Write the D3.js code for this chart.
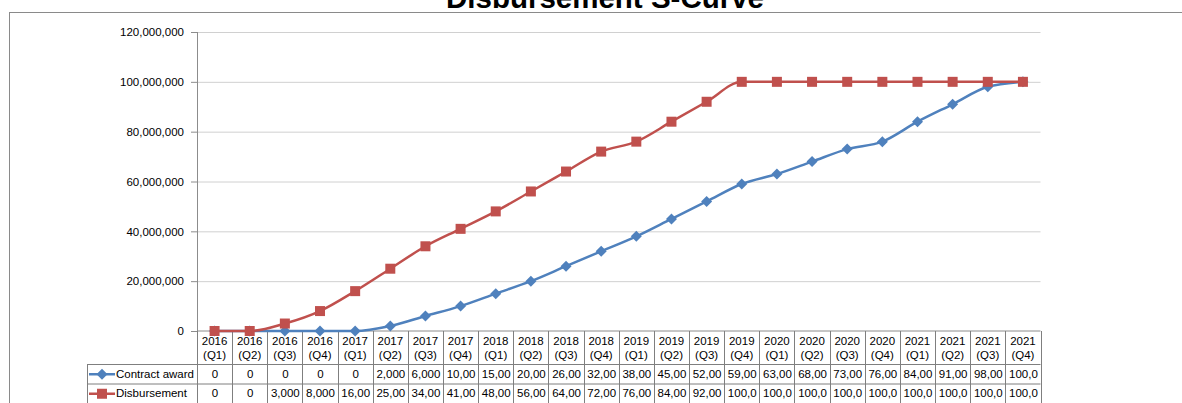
<!DOCTYPE html>
<html>
<head>
<meta charset="utf-8">
<style>
    body { margin: 0; background: #fff; }
    svg { display: block; font-family: 'Liberation Sans', Arial, sans-serif; }
    .y .domain { display: none; }
    .y .tick line { stroke: #8c8c8c; }
    .y .tick text { font-size: 11.5px; fill: #000; }
    .grid .domain { display: none; }
    .grid .tick line { stroke: #d0d0d0; }
    .cell { font-size: 11.5px; fill: #000; }
    .title { font-size: 29.5px; font-weight: bold; font-family: Arial, 'Liberation Sans', sans-serif; }
</style>
</head>
<body>
<svg width="1182" height="403"></svg>
<script src="https://cdnjs.cloudflare.com/ajax/libs/d3/7.8.5/d3.min.js"></script>
<script>
    let categories = ["2016 (Q1)", "2016 (Q2)", "2016 (Q3)", "2016 (Q4)",
        "2017 (Q1)", "2017 (Q2)", "2017 (Q3)", "2017 (Q4)",
        "2018 (Q1)", "2018 (Q2)", "2018 (Q3)", "2018 (Q4)",
        "2019 (Q1)", "2019 (Q2)", "2019 (Q3)", "2019 (Q4)",
        "2020 (Q1)", "2020 (Q2)", "2020 (Q3)", "2020 (Q4)",
        "2021 (Q1)", "2021 (Q2)", "2021 (Q3)", "2021 (Q4)"]

    let contractAward = [0, 0, 0, 0, 0, 2000000, 6000000, 10000000,
        15000000, 20000000, 26000000, 32000000, 38000000, 45000000, 52000000, 59000000,
        63000000, 68000000, 73000000, 76000000, 84000000, 91000000, 98000000, 100000000]

    let disbursement = [0, 0, 3000000, 8000000, 16000000, 25000000, 34000000, 41000000,
        48000000, 56000000, 64000000, 72000000, 76000000, 84000000, 92000000, 100000000,
        100000000, 100000000, 100000000, 100000000, 100000000, 100000000, 100000000, 100000000]

    let yTicks = [0, 20000000, 40000000, 60000000, 80000000, 100000000, 120000000]

    let seriesNames = ["Contract award", "Disbursement"]
    let seriesColors = ["#4f81bd", "#c0504d"]

    let svg = d3.select("svg")

    let plotLeft = 197, plotRight = 1040.5, plotTop = 32, plotBottom = 331
    let tableLeft = 87
    let rowY = [331, 364, 383.5, 403]

    let x = d3.scaleBand()
        .domain(categories)
        .range([plotLeft, plotRight])

    let y = d3.scaleLinear()
        .domain([0, 120000000])
        .range([plotBottom, plotTop])

    // chart frame
    svg.append("rect")
        .attr("x", 9.5).attr("y", 12.5)
        .attr("width", 1200).attr("height", 420)
        .attr("fill", "none")
        .attr("stroke", "#8a8a8a")

    // title (cut off at the top like the original)
    svg.append("text")
        .attr("class", "title")
        .attr("x", 605)
        .attr("y", 7.5)
        .attr("text-anchor", "middle")
        .text("Disbursement S-Curve")

    // gridlines
    svg.append("g")
        .attr("class", "grid")
        .attr("transform", `translate(${plotLeft},0)`)
        .call(d3.axisRight(y).tickValues(yTicks.slice(1)).tickSize(plotRight - plotLeft).tickFormat(""))

    // y axis
    svg.append("g")
        .attr("class", "y")
        .attr("transform", `translate(${plotLeft},0)`)
        .call(d3.axisLeft(y)
            .tickValues(yTicks)
            .tickSize(6)
            .tickPadding(7)
            .tickFormat(d3.format(",")))

    svg.append("line")
        .attr("x1", plotLeft + 0.5).attr("x2", plotLeft + 0.5)
        .attr("y1", plotTop).attr("y2", plotBottom)
        .attr("stroke", "#8c8c8c")

    svg.append("line")
        .attr("x1", plotLeft).attr("x2", plotRight)
        .attr("y1", y(0)).attr("y2", y(0))
        .attr("stroke", "#8c8c8c")

    // data table
    let table = svg.append("g")
    let border = "#7f7f7f"

    // horizontal rules
    table.append("line")
        .attr("x1", tableLeft).attr("x2", plotRight)
        .attr("y1", rowY[1] + 0.5).attr("y2", rowY[1] + 0.5)
        .attr("stroke", border)
    table.append("line")
        .attr("x1", tableLeft).attr("x2", plotRight)
        .attr("y1", rowY[2] + 0.5).attr("y2", rowY[2] + 0.5)
        .attr("stroke", border)

    // vertical rules
    table.selectAll(".vline")
        .data(categories.concat(["end"]))
        .join("line")
        .attr("class", "vline")
        .attr("x1", d => Math.round(d == "end" ? plotRight : x(d)) + 0.5)
        .attr("x2", d => Math.round(d == "end" ? plotRight : x(d)) + 0.5)
        .attr("y1", rowY[0])
        .attr("y2", rowY[3])
        .attr("stroke", border)

    table.append("line")
        .attr("x1", tableLeft + 0.5).attr("x2", tableLeft + 0.5)
        .attr("y1", rowY[1]).attr("y2", rowY[3])
        .attr("stroke", border)

    // header labels
    let head = table.selectAll(".head")
        .data(categories)
        .join("text")
        .attr("class", "cell head")
        .attr("text-anchor", "middle")
    head.append("tspan")
        .attr("x", d => x(d) + x.bandwidth() / 2)
        .attr("y", 345)
        .text(d => d.split(" ")[0])
    head.append("tspan")
        .attr("x", d => x(d) + x.bandwidth() / 2)
        .attr("y", 359)
        .text(d => d.split(" ")[1])

    // values (truncated to cell width like the source table)
    let fmt = d3.format(",")
    let series = [contractAward, disbursement]
    let rowBase = [378, 397]

    series.forEach(function (values, i) {
        table.selectAll(".val" + i)
            .data(values)
            .join("text")
            .attr("class", "cell val" + i)
            .attr("text-anchor", "middle")
            .attr("x", (d, j) => x(categories[j]) + x.bandwidth() / 2 + 0.5)
            .attr("y", rowBase[i])
            .text(d => fmt(d).slice(0, 5))
    })

    // lines and markers
    let line = d3.line()
        .x((d, j) => x(categories[j]) + x.bandwidth() / 2)
        .y(d => y(d))
        .curve(d3.curveMonotoneX)

    function drawMarker(g, i, cx, cy) {
        if (i == 0) {
            g.append("path")
                .attr("d", "M0,-5.5L5.5,0L0,5.5L-5.5,0Z")
                .attr("transform", `translate(${cx},${cy})`)
                .attr("fill", seriesColors[i])
        } else {
            g.append("rect")
                .attr("x", cx - 5).attr("y", cy - 5)
                .attr("width", 10).attr("height", 10)
                .attr("fill", seriesColors[i])
        }
    }

    // blue first, red on top of it (red squares cover blue at the start and end)
    ;[0, 1].forEach(function (i) {
        let g = svg.append("g")
        g.append("path")
            .datum(series[i])
            .attr("d", line)
            .attr("fill", "none")
            .attr("stroke", seriesColors[i])
            .attr("stroke-width", 2.5)
        series[i].forEach(function (v, j) {
            drawMarker(g, i, x(categories[j]) + x.bandwidth() / 2, y(v))
        })
    })

    // legend keys in table
    seriesNames.forEach(function (name, i) {
        let cy = (rowY[i + 1] + rowY[i + 2]) / 2 + 0.5
        let g = table.append("g")
        g.append("line")
            .attr("x1", 89).attr("x2", 115)
            .attr("y1", cy).attr("y2", cy)
            .attr("stroke", seriesColors[i])
            .attr("stroke-width", 2.5)
        drawMarker(g, i, 102, cy)
        g.append("text")
            .attr("class", "cell")
            .attr("x", 116)
            .attr("y", rowBase[i])
            .text(name)
    })
</script>
</body>
</html>
